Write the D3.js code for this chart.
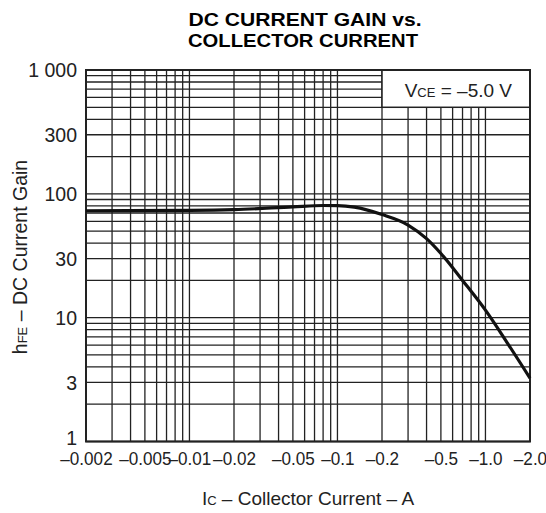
<!DOCTYPE html>
<html>
<head>
<meta charset="utf-8">
<title>DC current gain vs collector current</title>
<script src="https://d3js.org/d3.v7.min.js"></script>
<style>
  body { margin: 0; background: #fff; }
  svg { display: block; font-family: "Liberation Sans", Arial, sans-serif; }
</style>
</head>
<body>
<svg id="chart" width="546" height="513"></svg>
<script>
// collector current (A, magnitude) and hFE
const ic  = [0.002, 0.01, 0.02, 0.05, 0.08, 0.1, 0.13, 0.2, 0.3, 0.4, 0.5, 0.7, 1.0, 1.4, 2.0];
const hfe = [73, 73.5, 74.5, 78.5, 80.5, 80.3, 78, 68, 56, 43.5, 33, 20, 11.5, 6.3, 3.25];

const xTickValues = [0.002, 0.005, 0.01, 0.02, 0.05, 0.1, 0.2, 0.5, 1, 2];
const xTickLabels = ["–0.002", "–0.005", "–0.01", "–0.02", "–0.05", "–0.1", "–0.2", "–0.5", "–1.0", "–2.0"];
const yTickValues = [1, 3, 10, 30, 100, 300, 1000];
const yTickLabels = ["1", "3", "10", "30", "100", "300", "1 000"];

const svg = d3.select("#chart");
const plotL = 86, plotR = 530, plotT = 70, plotB = 441.5;

const x = d3.scaleLog().domain([0.002, 2]).range([plotL, plotR]);
const y = d3.scaleLog().domain([1, 1000]).range([plotB, plotT]);

// title
svg.append("text").attr("x", 305).attr("y", 26).attr("text-anchor", "middle")
  .attr("font-size", 19).attr("font-weight", "bold")
  .attr("textLength", 233).attr("lengthAdjust", "spacingAndGlyphs")
  .text("DC CURRENT GAIN vs.");
svg.append("text").attr("x", 303).attr("y", 47).attr("text-anchor", "middle")
  .attr("font-size", 19).attr("font-weight", "bold")
  .attr("textLength", 230).attr("lengthAdjust", "spacingAndGlyphs")
  .text("COLLECTOR CURRENT");

// grid
const grid = svg.append("g").attr("stroke", "#222").attr("stroke-width", 1.3);
grid.selectAll("line.v").data(x.ticks()).join("line")
  .attr("class", "v")
  .attr("x1", d => x(d)).attr("x2", d => x(d))
  .attr("y1", plotT).attr("y2", plotB);
grid.selectAll("line.h").data(y.ticks()).join("line")
  .attr("class", "h")
  .attr("x1", plotL).attr("x2", plotR)
  .attr("y1", d => y(d)).attr("y2", d => y(d));

// condition box
svg.append("rect")
  .attr("x", x(0.2)).attr("y", plotT)
  .attr("width", plotR - x(0.2)).attr("height", y(500) - plotT)
  .attr("fill", "#fff").attr("stroke", "#222").attr("stroke-width", 1.5);
const leg = svg.append("text").attr("x", 512).attr("y", 97).attr("text-anchor", "end")
  .attr("font-size", 19).attr("fill", "#222");
leg.append("tspan").text("V");
leg.append("tspan").attr("font-size", 13).text("CE");
leg.append("tspan").text(" = –5.0 V");

// frame
svg.append("rect")
  .attr("x", plotL).attr("y", plotT)
  .attr("width", plotR - plotL).attr("height", plotB - plotT)
  .attr("fill", "none").attr("stroke", "#222").attr("stroke-width", 2);

// curve
const line = d3.line()
  .x((d, i) => x(ic[i]))
  .y(d => y(d))
  .curve(d3.curveMonotoneX);
svg.append("path")
  .attr("d", line(hfe))
  .attr("fill", "none").attr("stroke", "#111").attr("stroke-width", 3.2)
  .attr("stroke-linejoin", "round");

// axes
const xAxis = svg.append("g").attr("transform", `translate(0,${plotB})`)
  .call(d3.axisBottom(x).tickValues(xTickValues)
    .tickFormat((d, i) => xTickLabels[i]).tickSize(0).tickPadding(0));
xAxis.select(".domain").remove();
xAxis.selectAll("text")
  .attr("font-size", 19).attr("fill", "#222")
  .attr("dy", 0).attr("y", 0).attr("x", 0)
  .attr("transform", "translate(0,23.5) scale(0.9,1)");

const yAxis = svg.append("g").attr("transform", `translate(${plotL},0)`)
  .call(d3.axisLeft(y).tickValues(yTickValues)
    .tickFormat(d => yTickLabels[yTickValues.indexOf(d)]).tickSize(0).tickPadding(9));
yAxis.select(".domain").remove();
yAxis.selectAll("text").attr("font-size", 19.5).attr("fill", "#222")
  .attr("dy", d => d === 1 ? "0.16em" : "0.34em");

// axis titles
const xt = svg.append("text").attr("x", 308).attr("y", 505).attr("text-anchor", "middle")
  .attr("font-size", 19).attr("fill", "#222");
xt.append("tspan").text("I");
xt.append("tspan").attr("font-size", 13).text("C");
xt.append("tspan").text(" – Collector Current – A");

const yt = svg.append("text").attr("transform", "translate(27,257) rotate(-90)")
  .attr("text-anchor", "middle").attr("font-size", 19.5).attr("fill", "#222");
yt.append("tspan").text("h");
yt.append("tspan").attr("font-size", 13).text("FE");
yt.append("tspan").text(" – DC Current Gain");
</script>
</body>
</html>
